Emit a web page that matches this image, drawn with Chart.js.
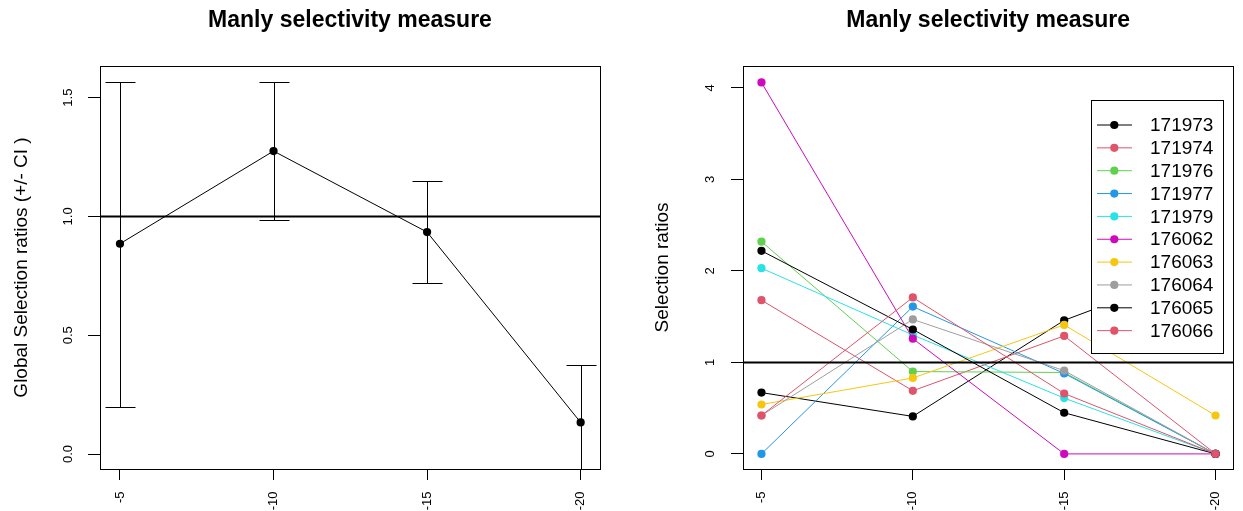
<!DOCTYPE html>
<html>
<head>
<meta charset="utf-8">
<title>Manly selectivity measure</title>
<script src="https://cdn.jsdelivr.net/npm/chart.js@4.4.1/dist/chart.umd.min.js"></script>
<style>
  html, body { margin: 0; padding: 0; background: #fff; }
  #wrap { position: relative; width: 1243px; height: 511px; }
  canvas { position: absolute; top: 0; }
  #globalChart { left: 0; }
  #idChart { left: 621px; }
</style>
</head>
<body>
<div id="wrap">
  <canvas id="globalChart" width="621" height="511"></canvas>
  <canvas id="idChart" width="622" height="511"></canvas>
</div>
<script>
// depth classes (x axis) shared by both panels
const depths = [-5, -10, -15, -20];

// global selection ratio with confidence interval
const globalRatio = [0.885, 1.275, 0.934, 0.133];
const globalLower = [0.20, 0.985, 0.72, -0.11];
const globalUpper = [1.565, 1.565, 1.149, 0.376];
const globalTicks = [0, 0.5, 1, 1.5];

// selection ratio per individual
const ids = ["171973", "171974", "171976", "171977", "171979", "176062", "176063", "176064", "176065", "176066"];
const ratio171973 = [0.67, 0.41, 1.46, 2.08];
const ratio171974 = [1.68, 0.69, 1.29, 0];
const ratio171976 = [2.32, 0.90, 0.89, 0];
const ratio171977 = [0, 1.61, 0.88, 0];
const ratio171979 = [2.03, 1.30, 0.61, 0];
const ratio176062 = [4.06, 1.26, 0, 0];
const ratio176063 = [0.54, 0.83, 1.41, 0.42];
const ratio176064 = [0.42, 1.47, 0.91, 0];
const ratio176065 = [2.22, 1.36, 0.45, 0];
const ratio176066 = [0.42, 1.71, 0.66, 0];
const idRatios = [ratio171973, ratio171974, ratio171976, ratio171977, ratio171979,
                  ratio176062, ratio176063, ratio176064, ratio176065, ratio176066];
const idColors = ["#000000", "#DF536B", "#61D04F", "#2297E6", "#28E2E5",
                  "#CD0BBC", "#F5C710", "#9E9E9E", "#000000", "#DF536B"];
const idTicks = [0, 1, 2, 3, 4];

const FONT = "'Liberation Sans', Arial, sans-serif";
Chart.defaults.font.family = FONT;
Chart.defaults.color = "#000";

// box around the plotting region
const frame = {
  id: "frame",
  afterDraw(chart) {
    const { ctx, chartArea: a } = chart;
    ctx.save();
    ctx.strokeStyle = "#000";
    ctx.lineWidth = 1;
    ctx.strokeRect(Math.round(a.left) + 0.5, Math.round(a.top) + 0.5,
                   Math.round(a.right - a.left), Math.round(a.bottom - a.top));
    ctx.restore();
  }
};

// horizontal line at ratio = 1
const refLine = {
  id: "refLine",
  afterDatasetsDraw(chart) {
    const { ctx, chartArea: a } = chart;
    const y = chart.scales.y.getPixelForValue(1);
    ctx.save();
    ctx.strokeStyle = "#000";
    ctx.lineWidth = 2;
    ctx.beginPath();
    ctx.moveTo(a.left, y);
    ctx.lineTo(a.right, y);
    ctx.stroke();
    ctx.restore();
  }
};

// y tick labels written vertically
function sideLabels(x) {
  return {
    id: "sideLabels",
    afterDraw(chart) {
      const { ctx } = chart;
      const s = chart.scales.y;
      ctx.save();
      ctx.font = "13px " + FONT;
      ctx.fillStyle = "#000";
      ctx.textAlign = "center";
      ctx.textBaseline = "middle";
      s.ticks.forEach((t, i) => {
        ctx.save();
        ctx.translate(x, s.getPixelForTick(i));
        ctx.rotate(-Math.PI / 2);
        ctx.fillText(t.label, 0, 0);
        ctx.restore();
      });
      ctx.restore();
    }
  };
}

const errorBars = {
  id: "errorBars",
  afterDatasetsDraw(chart) {
    const { ctx, chartArea: a, scales: { x, y } } = chart;
    ctx.save();
    ctx.beginPath();
    ctx.rect(a.left, a.top, a.right - a.left, a.bottom - a.top);
    ctx.clip();
    ctx.strokeStyle = "#000";
    ctx.lineWidth = 1;
    depths.forEach((d, i) => {
      const px = Math.round(x.getPixelForValue(d)) + 0.5;
      const lo = Math.round(y.getPixelForValue(globalLower[i])) + 0.5;
      const hi = Math.round(y.getPixelForValue(globalUpper[i])) + 0.5;
      ctx.beginPath();
      ctx.moveTo(px, lo); ctx.lineTo(px, hi);
      ctx.moveTo(px - 15, lo); ctx.lineTo(px + 15, lo);
      ctx.moveTo(px - 15, hi); ctx.lineTo(px + 15, hi);
      ctx.stroke();
    });
    ctx.restore();
  }
};

// legend box in the top right corner of the plot
const boxLegend = {
  id: "boxLegend",
  afterDatasetsDraw(chart) {
    const { ctx, chartArea: a } = chart;
    const w = 132, h = 253;
    const left = Math.round(a.right - 10.6 - w), top = Math.round(a.top + 34);
    ctx.save();
    ctx.fillStyle = "#fff";
    ctx.fillRect(left, top, w, h);
    ctx.strokeStyle = "#000";
    ctx.lineWidth = 1;
    ctx.strokeRect(left + 0.5, top + 0.5, w, h);
    ctx.font = "19px " + FONT;
    ctx.textAlign = "left";
    ctx.textBaseline = "middle";
    chart.data.datasets.forEach((ds, i) => {
      const y = top + 25 + i * 22.85;
      ctx.strokeStyle = ds.borderColor;
      ctx.beginPath();
      ctx.moveTo(left + 6, y);
      ctx.lineTo(left + 41, y);
      ctx.stroke();
      ctx.fillStyle = ds.borderColor;
      ctx.beginPath();
      ctx.arc(left + 23.3, y, 4.1, 0, Math.PI * 2);
      ctx.fill();
      ctx.fillStyle = "#000";
      ctx.fillText(ds.label, left + 59, y + 1);
    });
    ctx.restore();
  }
};

function xAxis(min, max) {
  return {
    type: "linear",
    reverse: true,
    min: min,
    max: max,
    afterBuildTicks: s => { s.ticks = depths.map(v => ({ value: v })); },
    afterFit: s => { s.height = 42; },
    grid: { drawOnChartArea: false, color: "#000", tickLength: 11 },
    border: { display: false },
    ticks: {
      minRotation: 90, maxRotation: 90, padding: 11.5,
      font: { size: 13 }, color: "#000",
      callback: v => String(v)
    }
  };
}

function yAxis(min, max, tickValues, width, title, titlePad, fmt) {
  return {
    type: "linear",
    min: min,
    max: max,
    afterBuildTicks: s => { s.ticks = tickValues.map(v => ({ value: v })); },
    afterFit: s => { s.width = width; },
    grid: { drawOnChartArea: false, color: "#000", tickLength: 12 },
    border: { display: false },
    ticks: { display: false, callback: fmt },
    title: {
      display: true, text: title, color: "#000",
      font: { size: 19 }, padding: { top: titlePad, bottom: 0 }
    }
  };
}

const titleOpts = {
  display: true,
  text: "Manly selectivity measure",
  color: "#000",
  fullSize: false,
  font: { size: 23, weight: "bold" },
  padding: { top: 7, bottom: 31.4 }
};

new Chart(document.getElementById("globalChart"), {
  type: "line",
  data: {
    datasets: [{
      label: "Global",
      data: depths.map((d, i) => ({ x: d, y: globalRatio[i] })),
      borderColor: "#000",
      backgroundColor: "#000",
      borderWidth: 1,
      pointRadius: 4.1,
      pointBorderWidth: 0,
      tension: 0
    }]
  },
  options: {
    responsive: false,
    animation: false,
    events: [],
    layout: { padding: { left: 0, right: 21, top: 0, bottom: 0 } },
    scales: {
      x: xAxis(-20.63, -4.35),
      y: yAxis(-0.063, 1.633, globalTicks, 100, "Global Selection ratios (+/- CI )", 10, v => v.toFixed(1))
    },
    plugins: {
      legend: { display: false },
      tooltip: { enabled: false },
      title: titleOpts
    }
  },
  plugins: [errorBars, refLine, frame, sideLabels(68)]
});

new Chart(document.getElementById("idChart"), {
  type: "line",
  data: {
    datasets: ids.map((id, k) => ({
      label: id,
      data: depths.map((d, i) => ({ x: d, y: idRatios[k][i] })),
      borderColor: idColors[k],
      backgroundColor: idColors[k],
      borderWidth: 1,
      pointRadius: 4.1,
      pointBorderWidth: 0,
      tension: 0,
      order: ids.length - k
    }))
  },
  options: {
    responsive: false,
    animation: false,
    events: [],
    layout: { padding: { left: 0, right: 1, top: 0, bottom: 0 } },
    scales: {
      x: xAxis(-20.59, -4.39),
      y: yAxis(-0.165, 4.24, idTicks, 122, "Selection ratios", 30, v => String(v))
    },
    plugins: {
      legend: { display: false },
      tooltip: { enabled: false },
      title: titleOpts
    }
  },
  plugins: [refLine, boxLegend, frame, sideLabels(89)]
});
</script>
</body>
</html>
